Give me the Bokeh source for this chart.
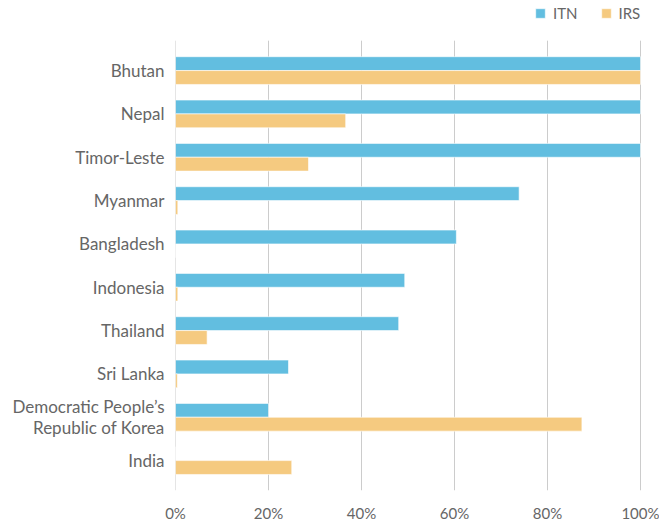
from bokeh.plotting import figure
from bokeh.models import ColumnDataSource, Range1d, FixedTicker, Legend, LegendItem, NumeralTickFormatter
from bokeh.embed import file_html
from bokeh.resources import INLINE

countries = ["Bhutan", "Nepal", "Timor-Leste", "Myanmar", "Bangladesh", "Indonesia",
             "Thailand", "Sri Lanka", "Democratic People\u2019s\nRepublic of Korea", "India"]
itn = [100, 100, 100, 73.9, 60.4, 49.3, 48.0, 24.3, 20.0, 0]
irs = [100, 36.6, 28.6, 0.5, 0, 0.5, 6.8, 0.4, 87.4, 25.0]
series = ["ITN", "IRS"]
xticks = [0, 0.2, 0.4, 0.6, 0.8, 1.0]

BLUE = "#62BEE0"
ORANGE = "#F5CA80"
TXT = "#666666"
GRID = "#cccccc"
FONT = "Lato"

n = len(countries)
pos = list(range(n))
src = ColumnDataSource(dict(
    y_itn=[p - 0.16 for p in pos],
    y_irs=[p + 0.16 for p in pos],
    itn=[v / 100 for v in itn],
    irs=[v / 100 for v in irs],
))

W, H = 659, 524
LEFT, BOTTOM = 175, 24
frame_w = W - LEFT
x100 = 640 - LEFT          # pixel position of 100% inside the frame
frame_h = H - BOTTOM
top_gap = 41               # legend strip above the gridded area
pad = 0.69
span = (n - 1) + 2 * pad
unit = (frame_h - top_gap) / span

p = figure(width=W, height=H, output_backend="svg", toolbar_location=None,
           x_range=Range1d(0, frame_w / x100),
           y_range=Range1d(n - 1 + pad, -pad - top_gap / unit),
           min_border_left=LEFT, min_border_right=0, min_border_top=0, min_border_bottom=BOTTOM)
p.outline_line_color = None
p.xgrid.grid_line_color = None
p.ygrid.grid_line_color = None

# vertical gridlines at the x ticks, limited to the category band
gsrc = ColumnDataSource(dict(x=xticks, y0=[-pad] * len(xticks), y1=[n - 1 + pad] * len(xticks)))
p.segment(x0="x", y0="y0", x1="x", y1="y1", source=gsrc,
          line_color=GRID, line_width=1, level="underlay")

r1 = p.hbar(y="y_itn", left=0, right="itn", height=0.32, source=src,
            fill_color=BLUE, line_color="white", line_width=0.6)
r2 = p.hbar(y="y_irs", left=0, right="irs", height=0.32, source=src,
            fill_color=ORANGE, line_color="white", line_width=0.6)

p.xaxis.ticker = FixedTicker(ticks=xticks)
p.xaxis.formatter = NumeralTickFormatter(format="0%")
p.xaxis.axis_line_color = None
p.xaxis.major_tick_line_color = None
p.xaxis.minor_tick_line_color = None
p.xaxis.major_label_text_font = FONT
p.xaxis.major_label_text_font_size = "15px"
p.xaxis.major_label_text_color = TXT
p.xaxis.major_label_standoff = 7

p.yaxis.ticker = FixedTicker(ticks=pos)
p.yaxis.major_label_overrides = {i: c for i, c in enumerate(countries)}
p.yaxis.axis_line_color = None
p.yaxis.major_tick_line_color = None
p.yaxis.minor_tick_line_color = None
p.yaxis.major_label_text_font = FONT
p.yaxis.major_label_text_font_size = "17px"
p.yaxis.major_label_text_color = TXT
p.yaxis.major_label_text_line_height = 1.0
p.yaxis.major_label_standoff = 5

legend = Legend(items=[LegendItem(label=series[0], renderers=[r1]),
                       LegendItem(label=series[1], renderers=[r2])],
                orientation="horizontal", location=(359, 468),
                glyph_width=12, glyph_height=12, label_text_font=FONT,
                label_text_font_size="15px", label_text_color=TXT,
                label_standoff=7, spacing=22, padding=0, margin=0,
                border_line_color=None, background_fill_alpha=0)
p.add_layout(legend)

open("out.html", "w").write(file_html(p, INLINE))
